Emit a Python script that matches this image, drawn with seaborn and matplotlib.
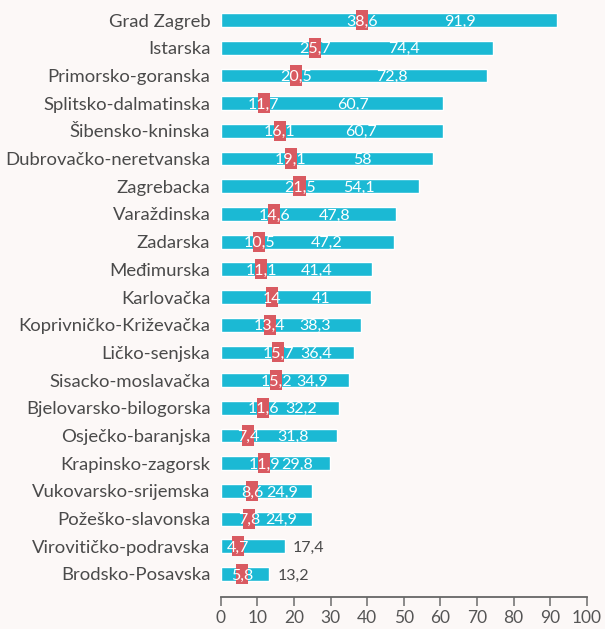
import matplotlib
matplotlib.use("Agg")
import matplotlib.pyplot as plt
import seaborn as sns
import pandas as pd
import numpy as np

regions = [
    "Grad Zagreb", "Istarska", "Primorsko-goranska", "Splitsko-dalmatinska",
    "Šibensko-kninska", "Dubrovačko-neretvanska", "Zagrebacka", "Varaždinska",
    "Zadarska", "Međimurska", "Karlovačka", "Koprivničko-Križevačka",
    "Ličko-senjska", "Sisacko-moslavačka", "Bjelovarsko-bilogorska",
    "Osječko-baranjska", "Krapinsko-zagorsk", "Vukovarsko-srijemska",
    "Požeško-slavonska", "Virovitičko-podravska", "Brodsko-Posavska",
]
total = [91.9, 74.4, 72.8, 60.7, 60.7, 58, 54.1, 47.8, 47.2, 41.4, 41,
         38.3, 36.4, 34.9, 32.2, 31.8, 29.8, 24.9, 24.9, 17.4, 13.2]
marker_val = [38.6, 25.7, 20.5, 11.7, 16.1, 19.1, 21.5, 14.6, 10.5, 11.1, 14,
              13.4, 15.7, 15.2, 11.6, 7.4, 11.9, 8.6, 7.8, 4.7, 5.8]
ticks = [0, 10, 20, 30, 40, 50, 60, 70, 80, 90, 100]

BG = "#fcf8f7"
CYAN = "#1bb9d4"
RED = "#d95a61"
TEXT = "#4a4a4a"

df = pd.DataFrame({"region": regions, "total": total, "marker": marker_val})

sns.set_theme(style="white")
plt.rcParams["font.family"] = ["Lato", "DejaVu Sans"]

fig = plt.figure(figsize=(6.05, 6.29), dpi=100, facecolor=BG)
ax = fig.add_axes([0.365, 0.0509, 0.605, 0.948])
ax.set_facecolor(BG)

sns.barplot(data=df, x="total", y="region", color=CYAN, width=0.5,
            saturation=1, orient="h", ax=ax)

# rectangular marker, taller than the bar
rect = [(-0.3, -0.5), (0.3, -0.5), (0.3, 0.5), (-0.3, 0.5), (-0.3, -0.5)]
sns.scatterplot(data=df, x="marker", y="region", marker=rect, s=210,
                color=RED, edgecolor="none", linewidth=0, ax=ax, zorder=3)

for i, (t, m) in enumerate(zip(total, marker_val)):
    ax.text(m, i, f"{m:g}".replace(".", ","), ha="center", va="center_baseline",
            color="white", fontsize=11.5, zorder=4)
    lbl = f"{t:g}".replace(".", ",")
    if t < 20:
        ax.text(t + 2.2, i, lbl, ha="left", va="center_baseline",
                color=TEXT, fontsize=11.5, zorder=4)
    else:
        ax.text((t + m) / 2, i, lbl, ha="center", va="center_baseline",
                color="white", fontsize=11.5, zorder=4)

ax.set_xlim(0, 100)
ax.set_ylim(20.83, -0.7)
ax.set_xticks(ticks)
ax.set_xticklabels([str(t) for t in ticks])
ax.set_xlabel("")
ax.set_ylabel("")

for s in ["top", "right", "left"]:
    ax.spines[s].set_visible(False)
ax.spines["bottom"].set_color("#666666")
ax.spines["bottom"].set_linewidth(1.3)

ax.tick_params(axis="x", direction="out", length=6.5, width=1.2,
               color="#777777", labelsize=12.5, labelcolor="#555555", pad=3,
               bottom=True)
ax.tick_params(axis="y", length=0, labelsize=13.3, labelcolor=TEXT, pad=7.5)

fig.savefig("out.png", dpi=100, facecolor=BG)
